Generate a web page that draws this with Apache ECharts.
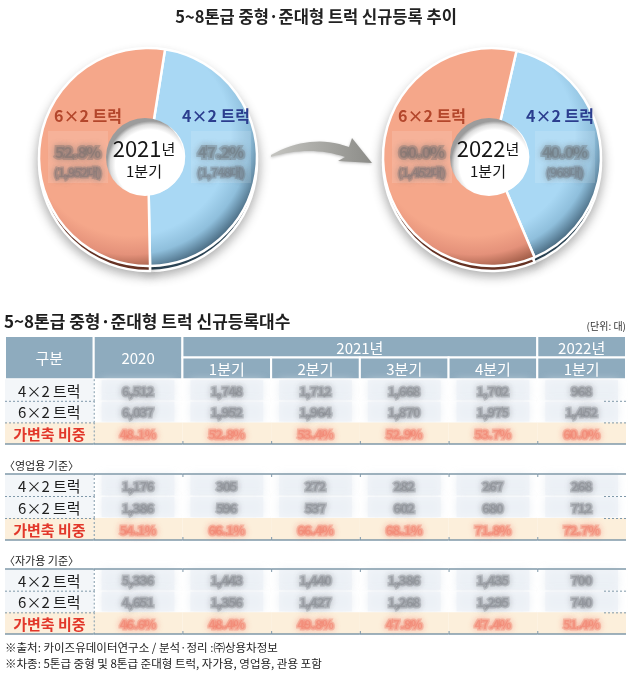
<!DOCTYPE html>
<html><head><meta charset="utf-8">
<script src="https://cdn.jsdelivr.net/npm/echarts@6/dist/echarts.min.js"></script>
<style>html,body{margin:0;padding:0;background:#fff}#c{width:631px;height:681px}</style>
</head><body><div id="c"></div>
<script>
// ---------------- data ----------------
const chartTitle = '5~8톤급 중형·준대형 트럭 신규등록 추이';
const tableTitle = '5~8톤급 중형·준대형 트럭 신규등록대수';
const unitText = '(단위: 대)';
const typeNames = ['4×2 트럭', '6×2 트럭'];
const shareLabel = '가변축 비중';
const headCorner = '구분';
const periodKeys = ['2020', '2021-1Q', '2021-2Q', '2021-3Q', '2021-4Q', '2022-1Q'];
const yearHeaders = ['2020', '2021년', '2022년'];
const quarterHeaders = ['1분기', '2분기', '3분기', '4분기', '1분기'];
const sectionLabels = ['〈영업용 기준〉', '〈자가용 기준〉'];
const footnotes = ['※출처: 카이즈유데이터연구소 / 분석·정리 :㈜상용차정보',
                   '※차종: 5톤급 중형 및 8톤급 준대형 트럭, 자가용, 영업용, 관용 포함'];

// 전체
const total4x2 = [6512, 1748, 1712, 1668, 1702, 968];
const total6x2 = [6037, 1952, 1964, 1870, 1975, 1452];
const totalShare = [48.1, 52.8, 53.4, 52.9, 53.7, 60.0];
// 영업용
const biz4x2 = [1176, 305, 272, 282, 267, 268];
const biz6x2 = [1386, 596, 537, 602, 680, 712];
const bizShare = [54.1, 66.1, 66.4, 68.1, 71.8, 72.7];
// 자가용
const own4x2 = [5336, 1443, 1440, 1386, 1435, 700];
const own6x2 = [4651, 1356, 1427, 1268, 1295, 740];
const ownShare = [46.6, 48.4, 49.8, 47.8, 47.4, 51.4];

// pies (4×2, 6×2)
const pieYears = ['2021', '2022'];
const pieYearUnit = '년';
const pieQuarter = '1분기';
const pie2021Share = [47.2, 52.8];
const pie2022Share = [40.0, 60.0];
const pie2021Count = [1748, 1952];
const pie2022Count = [968, 1452];

// ---------------- layout / style ----------------
const FONT = '"Noto Sans CJK KR","Noto Sans",sans-serif';
const HEAD_BG = '#8eabbe';
const BEIGE = '#fcefdb';
const LABEL_BG = '#f3f6f9';
const LINE = '#7f98a9';
const fmt = n => n.toLocaleString('en-US');
// smudged (blurred-looking) text style
function smudge(rgb, size, width) {
  return {font: 'bold ' + size + 'px ' + FONT,
    fill: 'rgba(' + rgb + ',0.32)', stroke: 'rgba(' + rgb + ',0.30)', lineWidth: width,
    lineJoin: 'round', textShadowColor: 'rgba(' + rgb + ',1)', textShadowBlur: 6};
}

const chart = echarts.init(document.getElementById('c'));

const pieDefs = [
  {center: [148, 157], start: 81, share: pie2021Share, count: pie2021Count, year: pieYears[0]},
  {center: [492, 157], start: 77, share: pie2022Share, count: pie2022Count, year: pieYears[1]}
];
const C6 = {light: '#f5a78a', mid: '#e4917a', dark: '#9c5944', rim: '#6a3526'};
const C4 = {light: '#a9d8f4', mid: '#8fbfdc', dark: '#4d6f86', rim: '#2e4758'};
function grad(cx, cy, c) {
  return {type: 'radial', x: cx - 18, y: cy - 22, r: 136, global: true,
    colorStops: [{offset: 0, color: c.light}, {offset: 0.74, color: c.light},
                 {offset: 0.88, color: c.mid}, {offset: 1, color: c.dark}]};
}

const series = [];
const graphics = [];

pieDefs.forEach((p, pi) => {
  const [cx, cy] = p.center;
  // rim (3D thickness)
  series.push({
    type: 'pie', silent: true, animation: false, z: 1,
    center: [cx, cy + 5], radius: [36, 109], startAngle: p.start, clockwise: true,
    label: {show: false}, labelLine: {show: false},
    itemStyle: {borderColor: '#fff', borderWidth: 2.5, shadowBlur: 12, shadowOffsetY: 3, shadowColor: 'rgba(0,0,0,0.35)'},
    data: [{name: typeNames[0], value: p.share[0], itemStyle: {color: C4.rim}},
           {name: typeNames[1], value: p.share[1], itemStyle: {color: C6.rim}}]
  });
  series.push({
    type: 'pie', silent: true, animation: false, z: 2,
    center: [cx, cy], radius: [36, 109], startAngle: p.start, clockwise: true,
    label: {show: false}, labelLine: {show: false},
    itemStyle: {borderColor: '#fff', borderWidth: 2.5},
    data: [{name: typeNames[0], value: p.share[0], itemStyle: {color: grad(cx, cy, C4)}},
           {name: typeNames[1], value: p.share[1], itemStyle: {color: grad(cx, cy, C6)}}]
  });
  // hole
  graphics.push({type: 'circle', z: 50, silent: true, shape: {cx: cx - 3, cy: cy, r: 39},
    style: {fill: {type: 'radial', x: 0.57, y: 0.6, r: 0.56,
      colorStops: [{offset: 0, color: '#fff'}, {offset: 0.8, color: '#fff'}, {offset: 0.92, color: '#dcdcdc'}, {offset: 1, color: '#9c9c9c'}]}}});
  graphics.push({type: 'text', z: 60, silent: true, style: {
    text: '{a|' + p.year + '}{b|' + pieYearUnit + '}', x: cx - 4, y: cy - 8,
    textAlign: 'center', textVerticalAlign: 'middle', align: 'center', verticalAlign: 'middle',
    rich: {a: {font: '22px ' + FONT, fill: '#151515', textFill: '#151515'},
           b: {font: '15px ' + FONT, fill: '#151515', textFill: '#151515'}}}});
  graphics.push({type: 'text', z: 60, silent: true, style: {
    text: pieQuarter, x: cx - 4, y: cy + 14, textAlign: 'center', textVerticalAlign: 'middle',
    align: 'center', verticalAlign: 'middle', font: '15px ' + FONT, fill: '#151515'}});
  // type labels
  const lx = [cx + 68, cx - 60];
  const vx = [cx + 73, cx - 70];
  const colors = ['#2b3d8e', '#b3462b'];
  [0, 1].forEach(k => {
    graphics.push({type: 'rect', z: 40, silent: true,
      shape: {x: vx[k] - 30, y: cy - 26, width: 60, height: 52},
      style: {fill: 'rgba(255,255,255,0.13)'}});
    graphics.push({type: 'text', z: 60, silent: true, style: {
      text: typeNames[k], x: lx[k], y: cy - 41, textAlign: 'center', textVerticalAlign: 'middle',
      align: 'center', verticalAlign: 'middle', font: 'bold 16px ' + FONT, fill: colors[k]}});
    graphics.push({type: 'text', z: 60, silent: true, style: Object.assign({
      text: p.share[k].toFixed(1) + '%', x: vx[k], y: cy - 5, textAlign: 'center', textVerticalAlign: 'middle',
      align: 'center', verticalAlign: 'middle'}, smudge('95,98,104', 15, 4))});
    graphics.push({type: 'text', z: 60, silent: true, style: Object.assign({
      text: '(' + fmt(p.count[k]) + '대)', x: vx[k], y: cy + 16, textAlign: 'center', textVerticalAlign: 'middle',
      align: 'center', verticalAlign: 'middle'}, smudge('100,104,110', 11, 3))});
  });
});

// arrow (polygon sampled from quadratic curves)
function quad(p0, p1, p2, n) {
  const pts = [];
  for (let i = 0; i <= n; i++) {
    const t = i / n, u = 1 - t;
    pts.push([u * u * p0[0] + 2 * u * t * p1[0] + t * t * p2[0], u * u * p0[1] + 2 * u * t * p1[1] + t * t * p2[1]]);
  }
  return pts;
}
const arrowPts = quad([271, 155], [310, 133], [349, 147], 16)
  .concat([[352, 138], [372, 163], [338, 161]])
  .concat(quad([345, 157], [310, 145], [271, 157], 16));
graphics.push({type: 'polygon', z: 30, silent: true,
  shape: {points: arrowPts},
  style: {fill: {type: 'linear', x: 0, y: 0, x2: 1, y2: 0,
    colorStops: [{offset: 0, color: '#c4c4c0'}, {offset: 1, color: '#8c8c88'}]},
    shadowBlur: 3, shadowColor: 'rgba(0,0,0,0.25)', shadowOffsetY: 1}});

// texts
function txt(t, x, y, font, fill, align) {
  graphics.push({type: 'text', z: 60, silent: true, style: {text: t, x: x, y: y,
    textAlign: align || 'left', align: align || 'left', textVerticalAlign: 'middle', verticalAlign: 'middle',
    font: font, fill: fill}});
}
txt(chartTitle, 316, 17, 'bold 16.5px ' + FONT, '#222', 'center');
txt(tableTitle, 4, 322, 'bold 17px ' + FONT, '#1e1e1e', 'left');
txt(unitText, 626, 326, '10px ' + FONT, '#333', 'right');
txt(sectionLabels[0], 4, 466, '11px ' + FONT, '#222', 'left');
txt(sectionLabels[1], 4, 561, '11px ' + FONT, '#222', 'left');
txt(footnotes[0], 5, 648, '11.5px ' + FONT, '#222', 'left');
txt(footnotes[1], 5, 664, '11.5px ' + FONT, '#222', 'left');

// ---------------- tables (custom series on category grids) ----------------
const colCats = [headCorner].concat(periodKeys);
function buildBody(arr, r0, a4, a6, sh) {
  arr.push({v: [0, r0, 1, 1], t: typeNames[0], k: 'label'});
  arr.push({v: [0, r0 + 1, 1, 1], t: typeNames[1], k: 'label'});
  arr.push({v: [0, r0 + 2, 1, 1], t: shareLabel, k: 'slabel'});
  a4.forEach((n, i) => arr.push({v: [1 + i, r0, 1, 1], t: fmt(n), k: 'num'}));
  a6.forEach((n, i) => arr.push({v: [1 + i, r0 + 1, 1, 1], t: fmt(n), k: 'num'}));
  sh.forEach((n, i) => arr.push({v: [1 + i, r0 + 2, 1, 1], t: n.toFixed(1) + '%', k: 'pct'}));
}
const cells1 = [];
cells1.push({v: [0, 0, 1, 2], t: headCorner, k: 'head'});
cells1.push({v: [1, 0, 1, 2], t: yearHeaders[0], k: 'head'});
cells1.push({v: [2, 0, 4, 1], t: yearHeaders[1], k: 'head'});
cells1.push({v: [6, 0, 1, 1], t: yearHeaders[2], k: 'head'});
quarterHeaders.forEach((q, i) => cells1.push({v: [2 + i, 1, 1, 1], t: q, k: 'head'}));
buildBody(cells1, 2, total4x2, total6x2, totalShare);
const cells2 = []; buildBody(cells2, 0, biz4x2, biz6x2, bizShare);
const cells3 = []; buildBody(cells3, 0, own4x2, own6x2, ownShare);

function makeRender(cells, firstRow, lastRow, topLine) {
  return function (params, api) {
    const cell = cells[params.dataIndex];
    const c = api.value(0), r = api.value(1), cs = api.value(2), rs = api.value(3);
    const p = api.coord([c, r]);
    const s = api.size([1, 1]);
    const x = p[0] - s[0] / 2, y = p[1] - s[1] / 2, w = s[0] * cs, h = s[1] * rs;
    const ch = [];
    if (cell.k === 'head') {
      ch.push({type: 'rect', shape: {x: x, y: y, width: w, height: h},
        style: {fill: HEAD_BG, stroke: '#fff', lineWidth: 2}});
      ch.push({type: 'text', z2: 5, style: {text: cell.t, x: x + w / 2, y: y + h / 2 + 1,
        textAlign: 'center', align: 'center', textVerticalAlign: 'middle', verticalAlign: 'middle',
        fill: '#fff', font: '15px ' + FONT}});
    } else {
      const bg = (cell.k === 'pct' || cell.k === 'slabel') ? BEIGE : (cell.k === 'label' ? LABEL_BG : '#fff');
      ch.push({type: 'rect', shape: {x: x, y: y, width: w, height: h}, style: {fill: bg}});
      if (cell.k === 'num') {
        ch.push({type: 'rect', shape: {x: x + 8, y: y + 1, width: w - 16, height: h - 2},
          style: {fill: 'rgba(236,241,246,0.7)', shadowBlur: 8, shadowColor: 'rgba(225,232,240,1)'}});
      }
      let st;
      if (cell.k === 'label') st = {font: '15px ' + FONT, fill: '#1e1e1e'};
      else if (cell.k === 'slabel') st = {font: 'bold 15px ' + FONT, fill: '#e2372a'};
      else if (cell.k === 'num') st = smudge('110,112,118', 12, 3);
      else st = smudge('238,100,80', 12, 3);
      ch.push({type: 'text', z2: 5, style: Object.assign({text: cell.t, x: x + w / 2, y: y + h / 2 + 1,
        textAlign: 'center', align: 'center', textVerticalAlign: 'middle', verticalAlign: 'middle'}, st)});
      const dash = {stroke: LINE, lineWidth: 1, lineDash: [2, 2]};
      if (c === 0) {
        ch.push({type: 'line', z2: 10, shape: {x1: x + w + 0.5, y1: y, x2: x + w + 0.5, y2: y + h}, style: dash});
        if (r < lastRow) ch.push({type: 'line', z2: 10, shape: {x1: x, y1: y + h + 0.5, x2: x + w, y2: y + h + 0.5}, style: dash});
      }
      if (c === colCats.length - 1 && r < lastRow) {
        ch.push({type: 'line', z2: 10, shape: {x1: x + w - 22, y1: y + h + 0.5, x2: x + w, y2: y + h + 0.5}, style: dash});
      }
      if (r === lastRow) {
        ch.push({type: 'line', z2: 10, shape: {x1: x, y1: y + h, x2: x + w, y2: y + h}, style: {stroke: LINE, lineWidth: 1.5}});
        if (c >= 2) ch.push({type: 'line', z2: 10, shape: {x1: x + 0.5, y1: y + h - 3, x2: x + 0.5, y2: y + h}, style: {stroke: LINE, lineWidth: 1}});
      }
      if (topLine && r === firstRow) {
        ch.push({type: 'line', z2: 10, shape: {x1: x, y1: y, x2: x + w, y2: y}, style: {stroke: LINE, lineWidth: 1.5}});
        if (c >= 2) ch.push({type: 'line', z2: 10, shape: {x1: x + 0.5, y1: y, x2: x + 0.5, y2: y + 3}, style: {stroke: LINE, lineWidth: 1}});
      }
    }
    return {type: 'group', children: ch};
  };
}

const grids = [
  {left: 5, width: 621, top: 336, height: 108},
  {left: 5, width: 621, top: 474, height: 66},
  {left: 5, width: 621, top: 569, height: 65}
];
const rowCats = [['h1', 'h2', 'r4', 'r6', 'rs'], ['r4', 'r6', 'rs'], ['r4', 'r6', 'rs']];
const xAxes = grids.map((g, i) => ({gridIndex: i, type: 'category', data: colCats, show: false}));
const yAxes = grids.map((g, i) => ({gridIndex: i, type: 'category', data: rowCats[i], inverse: true, show: false}));
const tableCells = [cells1, cells2, cells3];
const firstRows = [2, 0, 0];
const lastRows = [4, 2, 2];
tableCells.forEach((cells, i) => {
  series.push({
    type: 'custom', xAxisIndex: i, yAxisIndex: i, silent: true, animation: false,
    encode: {x: 0, y: 1},
    renderItem: makeRender(cells, firstRows[i], lastRows[i], i > 0),
    data: cells.map(cl => cl.v)
  });
});

chart.setOption({
  animation: false,
  backgroundColor: '#fff',
  grid: grids,
  xAxis: xAxes,
  yAxis: yAxes,
  series: series,
  graphic: {elements: graphics}
});
</script>
</body></html>
